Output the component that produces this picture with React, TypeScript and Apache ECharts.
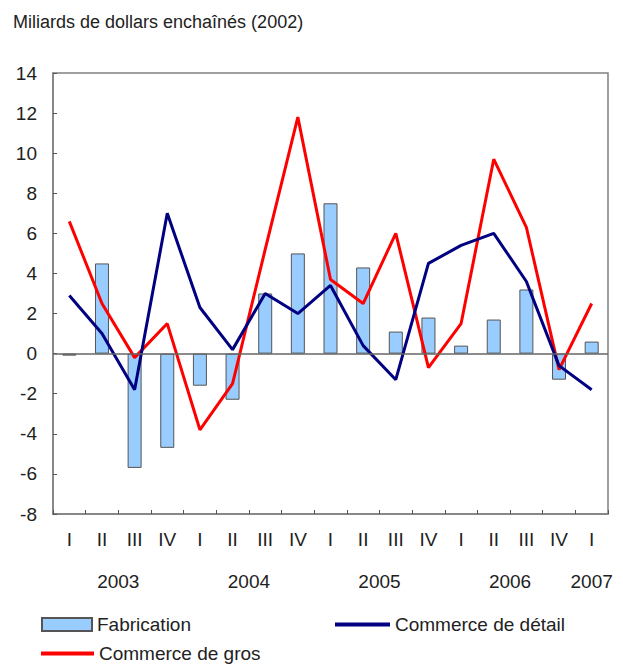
import React, { useEffect, useRef } from "react";
import * as echarts from "echarts";

const quarters = ["I", "II", "III", "IV", "I", "II", "III", "IV", "I", "II", "III", "IV", "I", "II", "III", "IV", "I"];
const fabrication = [-0.1, 4.5, -5.7, -4.7, -1.6, -2.3, 3.0, 5.0, 7.5, 4.3, 1.1, 1.8, 0.4, 1.7, 3.2, -1.3, 0.6];
const commerceDetail = [2.9, 1.0, -1.8, 7.0, 2.3, 0.2, 3.0, 2.0, 3.4, 0.4, -1.3, 4.5, 5.4, 6.0, 3.6, -0.6, -1.8];
const commerceGros = [6.6, 2.5, -0.2, 1.5, -3.8, -1.5, 5.2, 11.8, 3.7, 2.5, 6.0, -0.7, 1.5, 9.7, 6.3, -0.8, 2.5];
const years = ["2003", "2004", "2005", "2006", "2007"];
// index of each year label on a half-quarter scale (0..34)
const yearSlots = [4, 12, 20, 28, 33];

const FONT = "'Liberation Sans', Arial, sans-serif";
const TXT = "#222";

export default function App() {
  const ref = useRef<HTMLDivElement>(null);
  useEffect(() => {
    if (!ref.current) return;
    const chart = echarts.init(ref.current, undefined, { renderer: "svg" });
    const halfSlots: string[] = [];
    for (let i = 0; i <= quarters.length * 2; i++) {
      const k = yearSlots.indexOf(i);
      halfSlots.push(k >= 0 ? years[k] : "");
    }
    chart.setOption({
      animation: false,
      textStyle: { fontFamily: FONT, color: TXT },
      title: {
        text: "Miliards de dollars enchaînés (2002)",
        left: 8,
        top: 8,
        textStyle: { fontFamily: FONT, fontSize: 18, fontWeight: "normal", color: TXT },
      },
      grid: {
        left: 53,
        right: 15,
        top: 73,
        bottom: 153,
        show: true,
        borderColor: "#808080",
        borderWidth: 1.5,
        backgroundColor: "transparent",
      },
      legend: [
        {
          data: [{ name: "Fabrication", icon: "rect" }],
          left: 41,
          top: 615,
          itemWidth: 50,
          itemHeight: 13,
          itemGap: 0,
          padding: 0,
          textStyle: { fontFamily: FONT, fontSize: 19, color: TXT },
        },
        {
          data: [{ name: "Commerce de détail", icon: "rect" }],
          left: 335,
          top: 615,
          itemWidth: 55,
          itemHeight: 4,
          padding: 0,
          textStyle: { fontFamily: FONT, fontSize: 19, color: TXT },
        },
        {
          data: [{ name: "Commerce de gros", icon: "rect" }],
          left: 41,
          top: 644,
          itemWidth: 53,
          itemHeight: 4,
          padding: 0,
          textStyle: { fontFamily: FONT, fontSize: 19, color: TXT },
        },
      ],
      xAxis: [
        {
          type: "category",
          data: quarters,
          position: "bottom",
          boundaryGap: true,
          axisLine: { onZero: false, lineStyle: { color: "#808080", width: 1.5 } },
          axisTick: { show: true, inside: true, length: 4, lineStyle: { color: "#555" }, alignWithLabel: false },
          axisLabel: { interval: 0, margin: 16, fontSize: 19, fontFamily: FONT, color: TXT },
          splitLine: { show: false },
        },
        {
          type: "category",
          data: halfSlots,
          position: "bottom",
          boundaryGap: false,
          axisLine: { show: false, onZero: false },
          axisTick: { show: false },
          axisLabel: { interval: 0, margin: 58, fontSize: 19, fontFamily: FONT, color: TXT },
          splitLine: { show: false },
        },
      ],
      yAxis: {
        type: "value",
        min: -8,
        max: 14,
        interval: 2,
        axisLine: { show: true, lineStyle: { color: "#808080", width: 1.5 } },
        axisTick: { show: true, inside: true, length: 4, lineStyle: { color: "#555" } },
        axisLabel: { margin: 16, fontSize: 19, fontFamily: FONT, color: TXT },
        splitLine: { show: false },
      },
      series: [
        {
          name: "Fabrication",
          type: "bar",
          data: fabrication,
          barWidth: 14,
          itemStyle: { color: "#99ccff", borderColor: "#555", borderWidth: 1 },
          markLine: {
            silent: true,
            symbol: "none",
            label: { show: false },
            lineStyle: { color: "#666", width: 1.5, type: "solid" },
            data: [{ yAxis: 0 }],
          },
          z: 2,
        },
        {
          name: "Commerce de détail",
          type: "line",
          data: commerceDetail,
          showSymbol: false,
          symbol: "none",
          lineStyle: { color: "#000080", width: 3 },
          itemStyle: { color: "#000080" },
          z: 4,
        },
        {
          name: "Commerce de gros",
          type: "line",
          data: commerceGros,
          showSymbol: false,
          symbol: "none",
          lineStyle: { color: "#ff0000", width: 3 },
          itemStyle: { color: "#ff0000" },
          z: 3,
        },
      ],
    });
    return () => chart.dispose();
  }, []);
  return <div ref={ref} style={{ width: 623, height: 667, position: "absolute", left: 0, top: 0 }} />;
}
